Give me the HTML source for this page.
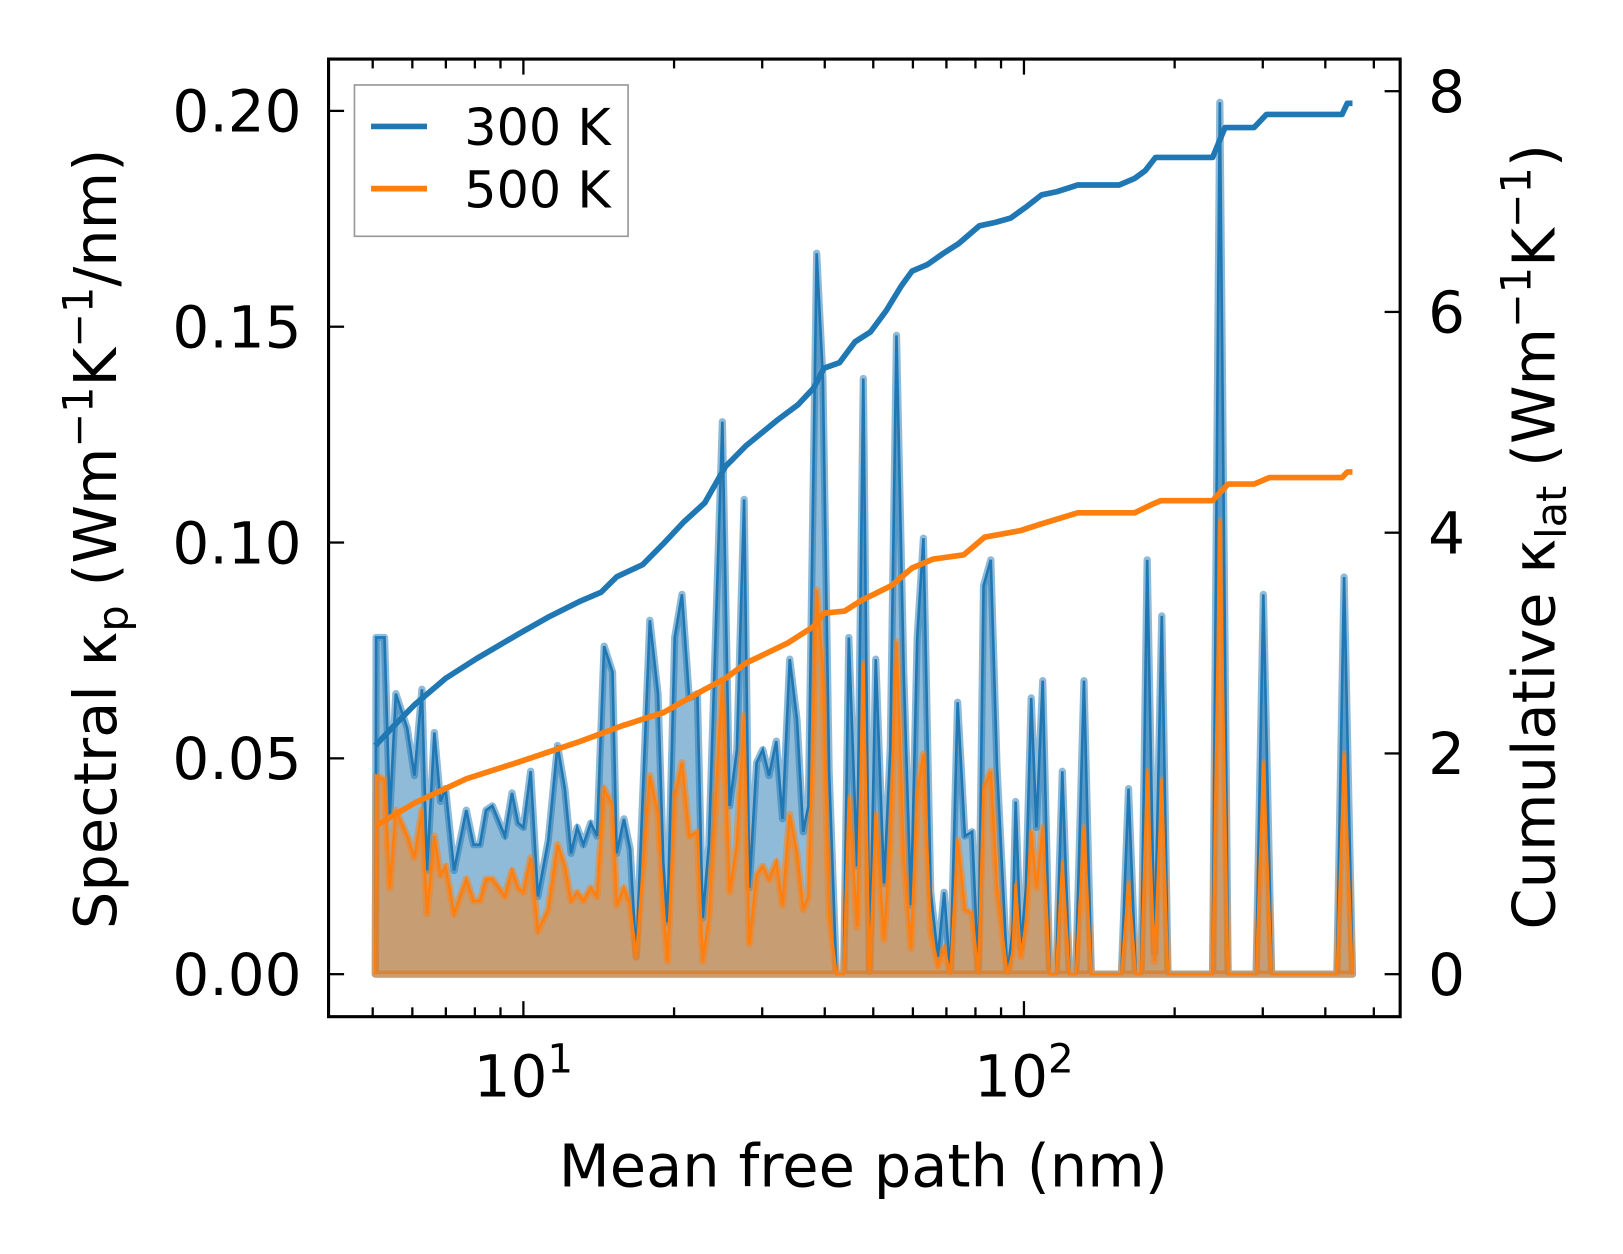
<!DOCTYPE html>
<html><head><meta charset="utf-8"><style>
html,body{margin:0;padding:0;background:#fff;}
svg{display:block;font-family:"DejaVu Sans","Liberation Sans",sans-serif;}
</style></head><body>
<svg id="chart" width="1623" height="1254" viewBox="0 0 1566 1210" xmlns="http://www.w3.org/2000/svg">
<rect width="1566" height="1210" fill="#fff"/>
<g id="marks"></g>
<g id="axes"></g>
</svg>
<script>
// Mean free path (nm)
const mfp = [5.06,5.08,5.28,5.41,5.56,5.86,6.06,6.27,6.42,6.64,6.83,6.99,7.27,7.69,7.95,8.19,8.42,8.67,9.18,9.49,9.76,10.0,10.34,10.69,11.21,11.70,12.10,12.45,12.81,13.18,13.63,14.03,14.50,15.07,15.36,15.88,16.34,16.81,17.89,18.58,19.03,19.40,20.06,20.74,21.44,22.27,22.81,23.47,24.97,25.82,26.70,27.60,28.27,29.23,30.08,30.95,32.00,32.93,34.05,35.20,36.22,37.10,38.54,39.66,40.81,42.19,43.62,44.68,46.41,47.76,49.15,50.58,52.54,54.06,55.63,57.52,59.47,61.20,62.97,65.11,67.32,69.27,71.28,73.70,76.20,78.79,81.07,83.02,85.84,88.33,92.65,94.88,96.25,98.58,100.9,103.4,105.9,109.0,112.6,115.9,119.3,123.3,126.9,131.8,136.3,156.5,161.8,167.3,171.4,176.3,182.3,188.5,194.0,238.1,246.2,255.8,290.9,300.8,312.5,421.8,436.1,453.2];
// Spectral kappa 300 K
const spec300 = [0,.078,.078,.037,.065,.057,.046,.066,.024,.056,.040,.043,.024,.038,.030,.030,.038,.039,.032,.042,.035,.034,.047,.018,.031,.053,.043,.028,.034,.030,.035,.032,.076,.070,.028,.036,.029,.004,.082,.065,.026,.012,.078,.088,.064,.065,.013,.030,.128,.039,.052,.110,.020,.049,.052,.046,.054,.036,.073,.059,.033,.039,.167,.138,.047,0,0,.078,.025,.138,0,.073,.021,.052,.148,.070,.016,.078,.101,.019,.004,.019,0,.063,.032,.033,0,.090,.096,.048,0,.010,.040,.006,.020,.064,.034,.068,0,0,.047,0,0,.068,0,0,.043,0,0,.096,.005,.083,0,0,.202,0,0,.088,0,0,.092,0];
// Spectral kappa 500 K
const spec500 = [0,.046,.045,.020,.038,.032,.027,.038,.014,.032,.023,.025,.014,.022,.017,.017,.022,.022,.018,.024,.020,.019,.027,.010,.015,.030,.025,.017,.019,.017,.020,.018,.043,.039,.016,.020,.016,.004,.046,.037,.015,.003,.041,.049,.032,.033,.003,.013,.068,.019,.030,.060,.007,.023,.025,.022,.026,.016,.037,.028,.015,.018,.089,.070,.014,0,0,.041,.011,.072,0,.037,.008,.031,.077,.027,.006,.042,.051,.010,.002,.006,0,.031,.015,.014,0,.043,.047,.020,0,.005,.021,.004,.012,.033,.020,.034,0,0,.026,0,0,.034,0,0,.021,0,0,.047,.003,.045,0,0,.105,0,0,.049,0,0,.051,0];
// Cumulative kappa 300 K
const cumMfp300 = [5.06,5.51,6.06,6.99,8.07,9.76,11.27,13.00,14.30,15.36,17.30,19.03,20.94,23.03,25.33,27.87,32.15,35.37,37.99,39.85,42.80,45.97,49.38,53.04,56.97,59.75,64.18,68.93,74.04,81.46,87.50,93.98,100.9,108.4,116.5,128.1,155.0,166.5,174.7,183.2,238.1,252.1,288.1,305.1,432.0,442.5,453.2];
const cum300 = [2.07,2.25,2.44,2.68,2.86,3.08,3.24,3.38,3.46,3.60,3.71,3.90,4.10,4.27,4.60,4.79,5.02,5.16,5.31,5.49,5.54,5.73,5.82,6.01,6.24,6.37,6.43,6.53,6.62,6.78,6.81,6.85,6.95,7.06,7.09,7.15,7.15,7.21,7.28,7.40,7.40,7.67,7.67,7.79,7.79,7.89,7.89];
// Cumulative kappa 500 K
const cumMfp500 = [5.06,6.06,7.69,9.76,13.00,15.73,19.03,23.03,25.33,27.87,33.72,37.99,39.85,43.83,47.08,54.32,59.75,65.74,75.84,83.42,98.58,108.4,128.1,166.5,178.9,187.6,238.1,255.8,288.1,309.5,432.0,442.5,453.2];
const cum500 = [1.34,1.55,1.77,1.92,2.11,2.25,2.37,2.58,2.68,2.82,3.00,3.15,3.27,3.29,3.38,3.52,3.68,3.76,3.80,3.96,4.02,4.08,4.18,4.18,4.25,4.29,4.29,4.44,4.44,4.50,4.50,4.55,4.55];
// Tick labels
const leftTicks = [0, 0.05, 0.10, 0.15, 0.20];
const leftTickLabels = ["0.00","0.05","0.10","0.15","0.20"];
const rightTicks = [0, 2, 4, 6, 8];
const rightTickLabels = ["0","2","4","6","8"];
const xDecades = [1, 2];
const legendLabels = ["300 K","500 K"];

const NS = "http://www.w3.org/2000/svg";
const L = 317, R = 1351, T = 57, B = 981;
function xs(v){ return 505 + (Math.log10(v) - 1) * 483; }
function yl(v){ return 940 - v * 4165; }
function yr(v){ return 940 - v * 106.5; }
function mk(tag, attrs, parent){
  const e = document.createElementNS(NS, tag);
  for (const k in attrs) e.setAttribute(k, attrs[k]);
  parent.appendChild(e); return e;
}
const marks = document.getElementById('marks');
const axes = document.getElementById('axes');
const clip = mk('clipPath', {id:'pc'}, marks);
mk('rect', {x:L, y:T, width:R-L, height:B-T}, clip);
const plot = mk('g', {'clip-path':'url(#pc)'}, marks);

function areaPath(vals){
  let d = 'M' + xs(mfp[0]).toFixed(1) + ',' + yl(0).toFixed(1);
  for (let i=0;i<mfp.length;i++) d += 'L' + xs(mfp[i]).toFixed(1) + ',' + yl(vals[i]).toFixed(1);
  d += 'L' + xs(mfp[mfp.length-1]).toFixed(1) + ',' + yl(0).toFixed(1) + 'Z';
  return d;
}
function linePath(xa, ya, yf){
  let d='';
  for (let i=0;i<xa.length;i++) d += (i?'L':'M') + xs(xa[i]).toFixed(1) + ',' + yf(ya[i]).toFixed(1);
  return d;
}
const a300 = mk('path', {d:areaPath(spec300), fill:'rgba(31,119,180,0.5)', stroke:'rgba(31,119,180,0.5)', 'stroke-width':7, 'stroke-linejoin':'round'}, plot);


const a500 = mk('path', {d:areaPath(spec500), fill:'rgba(255,127,14,0.5)', stroke:'rgba(255,127,14,0.5)', 'stroke-width':7, 'stroke-linejoin':'round'}, plot);


const l300 = mk('path', {d:linePath(mfp, spec300, yl), fill:'none', stroke:'#1f77b4', 'stroke-width':2.5}, plot);


const l500 = mk('path', {d:linePath(mfp, spec500, yl), fill:'none', stroke:'#ff7f0e', 'stroke-width':2.5}, plot);


const c300 = mk('path', {d:linePath(cumMfp300, cum300, yr), fill:'none', stroke:'#1f77b4', 'stroke-width':5.5, 'stroke-linejoin':'round'}, plot);


const c500 = mk('path', {d:linePath(cumMfp500, cum500, yr), fill:'none', stroke:'#ff7f0e', 'stroke-width':5.5, 'stroke-linejoin':'round'}, plot);



// frame
const frame = mk('rect', {x:L, y:T, width:R-L, height:B-T, fill:'none', stroke:'#000', 'stroke-width':3}, axes);



// x ticks
for (let dec=0; dec<=2; dec++){
  for (let k=1;k<=9;k++){
    const v = k*Math.pow(10,dec);
    const x = xs(v);
    if (x < L+2 || x > R-2) continue;
    const len = (k===1)?15:9;
    mk('line', {x1:x, x2:x, y1:B, y2:B-len, stroke:'#000', 'stroke-width':2.2}, axes);
    mk('line', {x1:x, x2:x, y1:T, y2:T+len, stroke:'#000', 'stroke-width':2.2}, axes);
  }
}
xDecades.forEach(p=>{
  const t = mk('text', {x:xs(Math.pow(10,p)), y:1058, 'font-size':56, 'text-anchor':'middle', fill:'#000'}, axes);
  
  
  t.appendChild(document.createTextNode('10'));
  const s = mk('tspan', {dy:-23, 'font-size':39}, t);
  s.textContent = String(p);
});
// left ticks
leftTicks.forEach((v,i)=>{
  const y = yl(v);
  mk('line', {x1:L, x2:L+15, y1:y, y2:y, stroke:'#000', 'stroke-width':2.2}, axes);
  const t = mk('text', {x:291, y:y+20, 'font-size':56, 'text-anchor':'end', fill:'#000'}, axes);
  
  
  t.textContent = leftTickLabels[i];
});
// right ticks
rightTicks.forEach((v,i)=>{
  const y = yr(v);
  mk('line', {x1:R, x2:R-15, y1:y, y2:y, stroke:'#000', 'stroke-width':2.2}, axes);
  const t = mk('text', {x:1378, y:y+20, 'font-size':56, 'text-anchor':'start', fill:'#000'}, axes);
  
  
  t.textContent = rightTickLabels[i];
});

// legend
const lg = mk('g', {}, axes);


mk('rect', {x:342, y:82, width:264, height:146, fill:'rgba(255,255,255,0.8)', stroke:'#999', 'stroke-width':1.6}, lg);
const lcols = ['#1f77b4','#ff7f0e'];
legendLabels.forEach((lab,i)=>{
  const y = 122 + i*60;
  const ln = mk('line', {x1:358, x2:412, y1:y, y2:y, stroke:lcols[i], 'stroke-width':5.5}, lg);
  
  
  const t = mk('text', {x:448, y:y+18, 'font-size':49, fill:'#000'}, lg);
  
  
  t.textContent = lab;
});
</script>
<svg style="position:absolute;left:0;top:0" width="1623" height="1254" viewBox="0 0 1566 1210" xmlns="http://www.w3.org/2000/svg">
<text x="833" y="1145" font-size="57" text-anchor="middle" font-family="DejaVu Sans, Liberation Sans, sans-serif">Mean free path (nm)</text>
<text transform="translate(112,520) rotate(-90)" font-size="57" text-anchor="middle" font-family="DejaVu Sans, Liberation Sans, sans-serif">Spectral κ<tspan font-size="40" dy="11">p</tspan><tspan dy="-11"> (Wm</tspan><tspan font-size="40" dy="-23">−1</tspan><tspan dy="23">K</tspan><tspan font-size="40" dy="-23">−1</tspan><tspan dy="23">/nm)</tspan></text>
<text transform="translate(1500,518) rotate(-90)" font-size="57" text-anchor="middle" font-family="DejaVu Sans, Liberation Sans, sans-serif">Cumulative κ<tspan font-size="40" dy="11">lat</tspan><tspan dy="-11"> (Wm</tspan><tspan font-size="40" dy="-23">−1</tspan><tspan dy="23">K</tspan><tspan font-size="40" dy="-23">−1</tspan><tspan dy="23">)</tspan></text>
</svg>
</body></html>
